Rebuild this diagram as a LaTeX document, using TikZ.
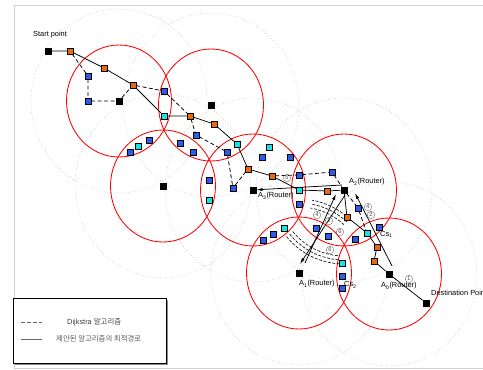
\documentclass[tikz,border=0pt]{standalone}
\usepackage{fontspec}
\setmainfont{Liberation Sans}
\newfontfamily\kr{Noto Sans CJK KR}
\usetikzlibrary{arrows.meta,calc,shadows}
\pgfdeclarelayer{under}
\pgfsetlayers{under,main}
\definecolor{nodeorange}{RGB}{235,104,14}
\definecolor{nodeblue}{RGB}{44,92,232}
\definecolor{nodecyan}{RGB}{20,230,230}
\definecolor{rangered}{RGB}{255,0,0}
\tikzset{
  sq/.style={rectangle,draw=black,line width=0.5pt,minimum size=5.6pt,inner sep=0pt,
    drop shadow={shadow xshift=0.7pt,shadow yshift=-0.7pt,opacity=0.4}},
  org/.style={sq,fill=nodeorange},
  blu/.style={sq,fill=nodeblue},
  cyn/.style={sq,fill=nodecyan},
  blk/.style={sq,fill=black,minimum size=6.4pt},
  near/.style={draw=rangered,line width=0.85pt},
  far/.style={draw=black!35,line width=0.45pt,dotted},
  opt/.style={line width=0.75pt},
  dij/.style={line width=0.75pt,dash pattern=on 4pt off 2.5pt},
  arr/.style={line width=0.75pt,-{Latex[length=6pt,width=3.2pt]}},
  wave/.style={line width=0.6pt,dash pattern=on 3pt off 1.5pt},
  num/.style={circle,draw=black!60,line width=0.35pt,inner sep=0pt,minimum size=7.5pt,
    font=\fontsize{5.5}{5.5}\selectfont,text=black!75},
  lbl/.style={font=\fontsize{7.4}{8.4}\selectfont,inner sep=0pt,anchor=west},
}
\begin{document}
\begin{tikzpicture}[x=1pt,y=-1pt]
\useasboundingbox (0,0) rectangle (483,370);

% routers
\node[blk] (S)  at (48,51) {};
\node[blk] (R1) at (119,101) {};
\node[blk] (R2) at (211,105) {};
\node[blk] (R3) at (163,186) {};
\node[blk] (A3) at (253,190) {};
\node[blk] (A2) at (344,190) {};
\node[blk] (A1) at (299,273) {};
\node[blk] (A0) at (389,274) {};
\node[blk] (D)  at (426,303) {};

% orange nodes
\node[org] (o1)  at (70,51) {};
\node[org] (o2)  at (104,68) {};
\node[org] (o3)  at (133,85) {};
\node[org] (o4)  at (190,116) {};
\node[org] (o5)  at (214,124) {};
\node[org] (o6)  at (248,169) {};
\node[org] (o7)  at (272,176) {};
\node[org] (o8)  at (327,191) {};
\node[org] (o9)  at (347,217) {};
\node[org] (o10) at (377,247) {};
\node[org] (o11) at (374,261) {};

% cyan nodes
\node[cyn] (c1) at (164,116) {};
\node[cyn] (c2) at (237,144) {};
\node[cyn] (c3) at (138,146) {};
\node[cyn] (c4) at (209,200) {};
\node[cyn] (c5) at (269,147) {};
\node[cyn] (c6) at (299,190) {};
\node[cyn] (c7) at (367,233) {};
\node[cyn] (c8) at (284,228) {};
\node[cyn] (c9) at (342,263) {};

% blue nodes
\node[blu] (b1)  at (88,76) {};
\node[blu] (b2)  at (88,101) {};
\node[blu] (b3)  at (164,91) {};
\node[blu] (b4)  at (196,135) {};
\node[blu] (b5)  at (180,143) {};
\node[blu] (b6)  at (193,152) {};
\node[blu] (b7)  at (227,152) {};
\node[blu] (b8)  at (149,140) {};
\node[blu] (b9)  at (130,152) {};
\node[blu] (b10) at (209,180) {};
\node[blu] (b11) at (233,188) {};
\node[blu] (b12) at (262,157) {};
\node[blu] (b13) at (290,157) {};
\node[blu] (b14) at (299,175) {};
\node[blu] (b15) at (332,172) {};
\node[blu] (b16) at (299,204) {};
\node[blu] (b17) at (358,208) {};
\node[blu] (b18) at (379,227) {};
\node[blu] (b19) at (273,234) {};
\node[blu] (b20) at (263,240) {};
\node[blu] (b21) at (316,228) {};
\node[blu] (b22) at (328,236) {};
\node[blu] (b23) at (355,239) {};
\node[blu] (b24) at (342,276) {};
\node[blu] (b25) at (342,288) {};

% labels
\node[lbl] (tS)  at (33,35) {Start point};
\node[lbl] (tD)  at (431,293) {Destination Point};
\node[lbl] (tA3) at (258,196) {A\textsubscript{3}(Router)};
\node[lbl] (tA2) at (349,182) {A\textsubscript{2}(Router)};
\node[lbl] (tA1) at (299,284) {A\textsubscript{1}(Router)};
\node[lbl] (tA0) at (381,286) {A\textsubscript{0}(Router)};
\node[lbl] (tC1) at (380,234) {Cs\textsubscript{1}};
\node[lbl] (tC2) at (344,285) {Cs\textsubscript{2}};

% step numbers
\node[num] (n5)  at (287,178) {5};
\node[num] (n4a) at (317,215) {4};
\node[num] (n3)  at (329,221) {3};
\node[num] (n6a) at (340,232) {6};
\node[num] (n6b) at (330,250) {6};
\node[num] (n4b) at (368,207) {4};
\node[num] (n2)  at (371,215) {2};
\node[num] (n1)  at (409,279) {1};

% arrow end points
\coordinate (t5s) at (342,185);
\coordinate (t3s) at (305,263);
\coordinate (t3e) at (336,194);
\coordinate (t4s) at (345,195);
\coordinate (t4e) at (300,264);
\coordinate (t2s) at (392,266);
\coordinate (t2e) at (355,193);

\begin{pgfonlayer}{under}
  % frame
  \draw[black!18,line width=0.8pt] (14,5) rectangle (495,368);
  % transmission ranges
  \foreach \r in {R1,R2,R3,A3,A2,A1,A0}
    \draw[far] (\r) ellipse [x radius=88pt,y radius=92pt];
  \foreach \r in {R1,R2,R3,A3,A2,A1,A0}
    \draw[near] (\r) ellipse [x radius=52.5pt,y radius=56pt];
  % proposed optimal path
  \draw[opt] (S) -- (o1) -- (o2) -- (o3) -- (c1) -- (o4) -- (o5) -- (c2) -- (o6)
    -- (o7) -- (c6) -- (o8) -- (A2) -- (o9) -- (c7) -- (o10) -- (o11) -- (A0) -- (D);
  % Dijkstra path
  \draw[dij] (o1) -- (b1) -- (b2) -- (R1) -- (o3) -- (b3) -- (o4) -- (b4) -- (b7)
    -- (b11) -- (o6);
  \draw[dij] (o7) -- (b14) -- (b15) -- (A2) -- (b17) -- (c7);
  % control messages
  \draw[arr] (t5s) -- (A3);
  \draw[arr] (t3s) -- (t3e);
  \draw[arr] (t4s) -- (t4e);
  \draw[arr] (t2s) -- (t2e);
  % flooding
  \foreach \q in {66,70,74} {
    \draw[wave] (A1) ++(47:\q pt) arc[start angle=47,end angle=80,radius=\q pt];
    \draw[wave] (A2) ++(219:\q pt) arc[start angle=219,end angle=266,radius=\q pt];
  }
\end{pgfonlayer}

% legend
\draw[black!45,line width=1.2pt] (15,364) -- (167,364) -- (167,300);
\node[draw=black,line width=0.7pt,fill=white,minimum width=153pt,minimum height=65pt,
  inner sep=0pt,anchor=north west] (leg) at (13,298) {};
\coordinate (l1a) at (21,322);
\coordinate (l1b) at (42,322);
\coordinate (l2a) at (21,339);
\coordinate (l2b) at (42,339);
\draw[black!60,line width=0.9pt,dash pattern=on 3.5pt off 2.5pt] (l1a) -- (l1b);
\draw[black!60,line width=1pt] (l2a) -- (l2b);
\node[lbl,text=black!75] (lt1) at (67,322) {Dijkstra {\kr 알고리즘}};
\node[lbl,text=black!65] (lt2) at (56,339) {\kr 제안된 알고리즘의 최적경로};
\end{tikzpicture}
\end{document}
